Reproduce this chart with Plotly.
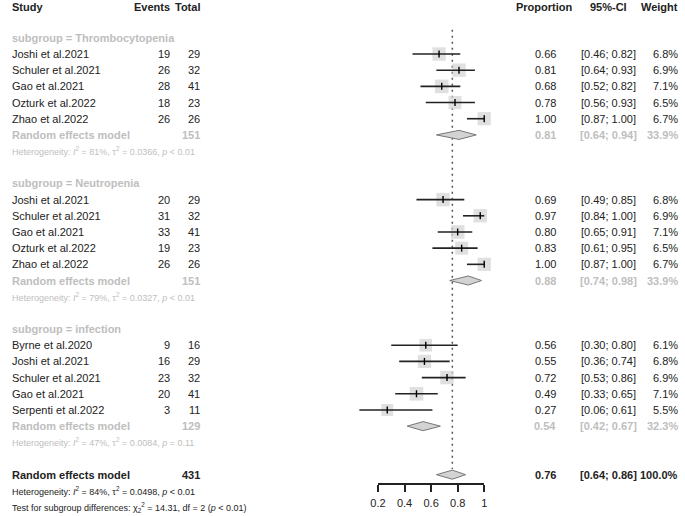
import plotly.graph_objects as go
import math

# ---------------- data ----------------
group_names = ["Thrombocytopenia", "Neutropenia", "infection"]

studies_T = ["Joshi et al.2021", "Schuler et al.2021", "Gao et al.2021", "Ozturk et al.2022", "Zhao et al.2022"]
events_T = [19, 26, 28, 18, 26]
total_T = [29, 32, 41, 23, 26]
prop_T = [0.66, 0.81, 0.68, 0.78, 1.00]
lo_T = [0.46, 0.64, 0.52, 0.56, 0.87]
hi_T = [0.82, 0.93, 0.82, 0.93, 1.00]
w_T = [6.8, 6.9, 7.1, 6.5, 6.7]

studies_N = ["Joshi et al.2021", "Schuler et al.2021", "Gao et al.2021", "Ozturk et al.2022", "Zhao et al.2022"]
events_N = [20, 31, 33, 19, 26]
total_N = [29, 32, 41, 23, 26]
prop_N = [0.69, 0.97, 0.80, 0.83, 1.00]
lo_N = [0.49, 0.84, 0.65, 0.61, 0.87]
hi_N = [0.85, 1.00, 0.91, 0.95, 1.00]
w_N = [6.8, 6.9, 7.1, 6.5, 6.7]

studies_I = ["Byrne et al.2020", "Joshi et al.2021", "Schuler et al.2021", "Gao et al.2021", "Serpenti et al.2022"]
events_I = [9, 16, 23, 20, 3]
total_I = [16, 29, 32, 41, 11]
prop_I = [0.56, 0.55, 0.72, 0.49, 0.27]
lo_I = [0.30, 0.36, 0.53, 0.33, 0.06]
hi_I = [0.80, 0.74, 0.86, 0.65, 0.61]
w_I = [6.1, 6.8, 6.9, 7.1, 5.5]

sub_total = [151, 151, 129]
sub_est = [0.81, 0.88, 0.54]
sub_lo = [0.64, 0.74, 0.42]
sub_hi = [0.94, 0.98, 0.67]
sub_w = [33.9, 33.9, 32.3]
sub_I2 = [81, 79, 47]
sub_tau2 = ["0.0366", "0.0327", "0.0084"]
sub_p = ["&lt; 0.01", "&lt; 0.01", "= 0.11"]

overall_total = 431
overall_est = 0.76
overall_lo = 0.64
overall_hi = 0.86
overall_w = 100.0
overall_I2 = 84
overall_tau2 = "0.0498"
overall_p = "&lt; 0.01"
test_chi2 = "14.31"
test_df = 2
test_p = "&lt; 0.01"

axis_ticks = [0.2, 0.4, 0.6, 0.8, 1]
axis_ticktext = ["0.2", "0.4", "0.6", "0.8", "1"]

groups = [
    (studies_T, events_T, total_T, prop_T, lo_T, hi_T, w_T),
    (studies_N, events_N, total_N, prop_N, lo_N, hi_N, w_N),
    (studies_I, events_I, total_I, prop_I, lo_I, hi_I, w_I),
]

# ---------------- layout constants ----------------
W, H = 685, 516
FONT = "Liberation Sans, Arial, Helvetica, sans-serif"
DARK = "#222222"
GRAY = "#BEBEBE"
FS = 11
FS_HET = 9

ROW0_PX = 54.0   # pixel y of row 3
ROW_H = 16.18
def row_px_range():
    top = 3 + (0 - ROW0_PX) / ROW_H
    bot = 3 + (H - ROW0_PX) / ROW_H
    return [bot, top]

# forest x scale: px = 349 + 135 * v
X0_PX, X_SCALE = 349.0, 135.0
xrange_main = [(0 - X0_PX) / X_SCALE, (W - X0_PX) / X_SCALE]

fig = go.Figure()
ann = []

def px(x):
    return x / W

def add_text(x, row, text, anchor="left", color=DARK, size=FS, bold=False):
    if bold:
        text = "<b>" + text + "</b>"
    ann.append(dict(x=px(x), y=row, xref="paper", yref="y", text=text,
                    showarrow=False, xanchor=anchor, yanchor="middle",
                    font=dict(family=FONT, size=size, color=color)))

# header
add_text(2, 0.1, "Study", "left", bold=True)
add_text(167, 0.1, "Events", "right", bold=True)
add_text(197, 0.1, "Total", "right", bold=True)
add_text(545, 0.1, "Proportion", "center", bold=True)
add_text(610, 0.1, "95%-CI", "center", bold=True)
add_text(683, 0.1, "Weight", "right", bold=True)

sq_x, sq_y, sq_s = [], [], []
ci_x, ci_y = [], []
est_x, est_y = [], []
diamonds = []

start = 2
for g, (names, ev, tot, pr, lo, hi, w) in enumerate(groups):
    add_text(2, start, "subgroup = " + group_names[g], "left", color=GRAY, bold=True)
    for i in range(len(names)):
        r = start + 1 + i
        add_text(2, r, names[i], "left")
        add_text(167, r, str(ev[i]), "right")
        add_text(197, r, str(tot[i]), "right")
        add_text(546, r, f"{pr[i]:.2f}", "center")
        add_text(610, r, f"[{lo[i]:.2f}; {hi[i]:.2f}]", "center")
        add_text(683, r, f"{w[i]:.1f}%", "right")
        sq_x.append(pr[i]); sq_y.append(r); sq_s.append(5.1 * math.sqrt(w[i]))
        ci_x += [lo[i], hi[i], None]; ci_y += [r, r, None]
        est_x.append(pr[i]); est_y.append(r)
    rr = start + len(names) + 1
    add_text(2, rr, "Random effects model", "left", color=GRAY, bold=True)
    add_text(197, rr, str(sub_total[g]), "right", color=GRAY, bold=True)
    add_text(546, rr, f"{sub_est[g]:.2f}", "center", color=GRAY, bold=True)
    add_text(610, rr, f"[{sub_lo[g]:.2f}; {sub_hi[g]:.2f}]", "center", color=GRAY, bold=True)
    add_text(683, rr, f"{sub_w[g]:.1f}%", "right", color=GRAY, bold=True)
    diamonds.append((sub_lo[g], sub_est[g], sub_hi[g], rr))
    add_text(2, rr + 1, f"Heterogeneity: <i>I</i><sup>2</sup> = {sub_I2[g]}%, τ<sup>2</sup> = {sub_tau2[g]}, <i>p</i> {sub_p[g]}",
             "left", color=GRAY, size=FS_HET)
    start = rr + 3

ro = start
add_text(2, ro, "Random effects model", "left", bold=True)
add_text(197, ro, str(overall_total), "right", bold=True)
add_text(546, ro, f"{overall_est:.2f}", "center", bold=True)
add_text(610, ro, f"[{overall_lo:.2f}; {overall_hi:.2f}]", "center", bold=True)
add_text(683, ro, f"{overall_w:.1f}%", "right", bold=True)
diamonds.append((overall_lo, overall_est, overall_hi, ro))
add_text(2, ro + 1, f"Heterogeneity: <i>I</i><sup>2</sup> = {overall_I2}%, τ<sup>2</sup> = {overall_tau2}, <i>p</i> {overall_p}",
         "left", size=FS_HET)
add_text(2, ro + 2, f"Test for subgroup differences: χ<sub>2</sub><sup>2</sup> = {test_chi2}, df = {test_df} (<i>p</i> {test_p})",
         "left", size=FS_HET)

# dotted reference line at overall estimate
fig.add_trace(go.Scatter(x=[overall_est, overall_est], y=[1.5, ro - 0.35], mode="lines",
                         line=dict(color="#555555", width=1.5, dash="2px,4px"),
                         hoverinfo="skip", showlegend=False))

# squares
fig.add_trace(go.Scatter(x=sq_x, y=sq_y, mode="markers",
                         marker=dict(symbol="square", size=sq_s, color="#D3D3D3", line=dict(width=0)),
                         hoverinfo="skip", showlegend=False, cliponaxis=False))
# CI lines
fig.add_trace(go.Scatter(x=ci_x, y=ci_y, mode="lines",
                         line=dict(color=DARK, width=1.6),
                         hoverinfo="skip", showlegend=False))
# estimate ticks
fig.add_trace(go.Scatter(x=est_x, y=est_y, mode="markers",
                         marker=dict(symbol="line-ns", size=5, line=dict(color="black", width=1.4)),
                         hoverinfo="skip", showlegend=False))
# diamonds
dh = 0.28
for lo, est, hi, r in diamonds:
    fig.add_trace(go.Scatter(x=[lo, est, hi, est, lo], y=[r, r - dh, r, r + dh, r],
                             mode="lines", fill="toself", fillcolor="#D3D3D3",
                             line=dict(color="#777777", width=1),
                             hoverinfo="skip", showlegend=False))

# axis trace (invisible point to activate xaxis2)
fig.add_trace(go.Scatter(x=[axis_ticks[0]], y=[0], xaxis="x2", yaxis="y2", mode="markers",
                         marker=dict(opacity=0), hoverinfo="skip", showlegend=False))

axis_y_px = 483
y2_dom = 1 - axis_y_px / H

fig.update_layout(
    width=W, height=H,
    margin=dict(l=0, r=0, t=0, b=0),
    paper_bgcolor="white", plot_bgcolor="white",
    xaxis=dict(range=xrange_main, visible=False, fixedrange=True),
    yaxis=dict(range=row_px_range(), visible=False, fixedrange=True),
    xaxis2=dict(domain=[376 / W, 484 / W], range=[0.2, 1], anchor="y2",
                showline=True, linecolor=DARK, linewidth=1.5,
                ticks="outside", ticklen=7, tickwidth=1.5, tickcolor=DARK,
                tickvals=axis_ticks, ticktext=axis_ticktext, ticklabelstandoff=2,
                tickfont=dict(family=FONT, size=FS, color=DARK),
                showgrid=False, zeroline=False, fixedrange=True),
    yaxis2=dict(domain=[y2_dom, y2_dom + 0.001], visible=False, range=[0, 1], fixedrange=True),
    annotations=ann,
    showlegend=False,
)

fig.write_html("out.html", config={"displayModeBar": False},
               post_script="document.body.style.margin='0';document.body.style.overflow='hidden';")
